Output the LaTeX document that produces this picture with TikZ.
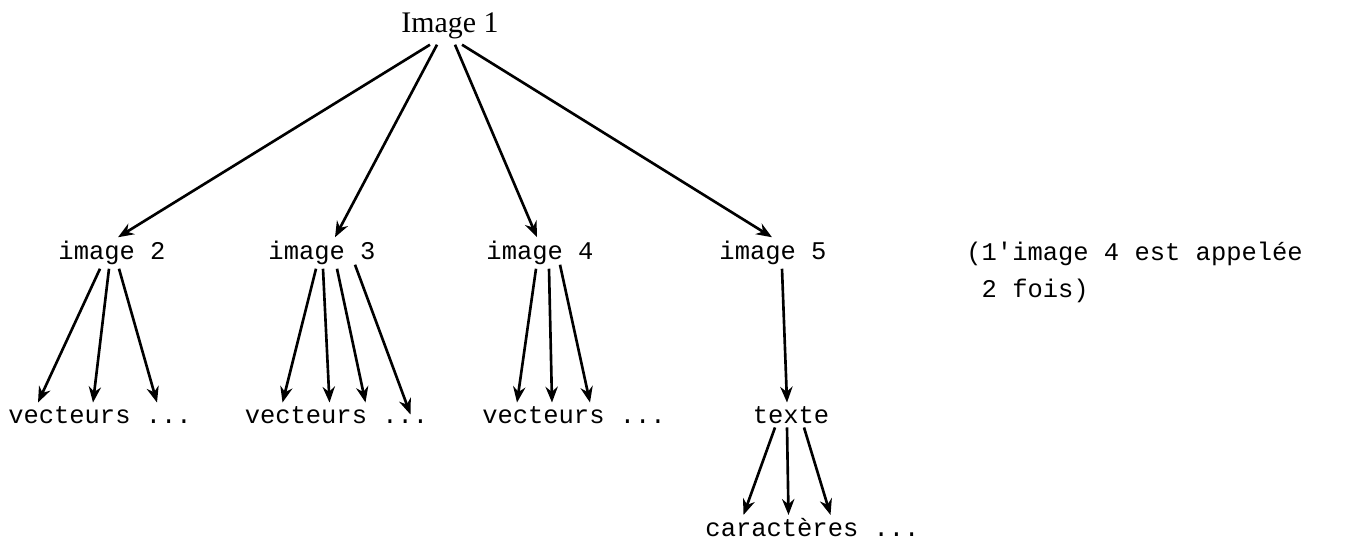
\documentclass[tikz,border=0pt]{standalone}
\usepackage{fontspec}
\setmainfont{Liberation Serif}
\setmonofont{Liberation Mono}
\usetikzlibrary{arrows.meta}

\tikzset{
  lbl/.style={font=\ttfamily\fontsize{14.5}{21.5}\selectfont, inner sep=2pt},
  toplbl/.style={font=\rmfamily\fontsize{17}{20}\selectfont, inner sep=3pt},
  arr/.style={-{Stealth[length=9pt,width=7pt]}, line width=1.5pt, black}
}

\begin{document}
\begin{tikzpicture}
                \useasboundingbox (0,0) rectangle (27.06,-10.94);
                % levels of the tree
                \node[toplbl] (img1) at (9.0,-0.52) {Image 1};
                \node[lbl] (img2) at (2.24,-5.06) {image 2};
                \node[lbl] (img3) at (6.44,-5.06) {image 3};
                \node[lbl] (img4) at (10.8,-5.06) {image 4};
                \node[lbl] (img5) at (15.46,-5.06) {image 5};
                \node[lbl] (vecA) at (2.0,-8.3) {vecteurs ...};
                \node[lbl] (vecB) at (6.73,-8.3) {vecteurs ...};
                \node[lbl] (vecC) at (11.48,-8.3) {vecteurs ...};
                \node[lbl] (texte) at (15.82,-8.3) {texte};
                \node[lbl] (carac) at (16.25,-10.56) {caractères ...};
                \node[lbl, align=left, anchor=west] (note) at (19.25,-5.45) {(1'image 4 est appelée\\\phantom{(}2 fois)};
                % Image 1
                \draw[arr] ([xshift=-0.4cm]img1.south) -- ([xshift=0.12cm]img2.north);
                \draw[arr] ([xshift=-0.26cm]img1.south) -- ([xshift=0.26cm]img3.north);
                \draw[arr] ([xshift=0.1cm]img1.south) -- ([xshift=-0.06cm]img4.north);
                \draw[arr] ([xshift=0.24cm]img1.south) -- ([xshift=-0.02cm]img5.north);
                % image 2
                \draw[arr] ([xshift=-0.24cm]img2.south) -- ([xshift=-1.24cm]vecA.north);
                \draw[arr] ([xshift=-0.06cm]img2.south) -- ([xshift=-0.14cm]vecA.north);
                \draw[arr] ([xshift=0.14cm]img2.south) -- ([xshift=1.14cm]vecA.north);
                % image 3
                \draw[arr] ([xshift=-0.12cm]img3.south) -- ([xshift=-1.08cm]vecB.north);
                \draw[arr] ([xshift=0.02cm]img3.south) -- ([xshift=-0.14cm]vecB.north);
                \draw[arr] ([xshift=0.3cm]img3.south) -- ([xshift=0.58cm]vecB.north);
                \draw[arr] ([xshift=0.66cm,yshift=0.08cm]img3.south) -- ([xshift=1.48cm,yshift=-0.24cm]vecB.north);
                % image 4
                \draw[arr] ([xshift=-0.08cm]img4.south) -- ([xshift=-1.14cm]vecC.north);
                \draw[arr] ([xshift=0.18cm]img4.south) -- ([xshift=-0.44cm]vecC.north);
                \draw[arr] ([xshift=0.4cm,yshift=0.08cm]img4.south) -- ([xshift=0.32cm]vecC.north);
                % image 5
                \draw[arr] ([xshift=0.18cm]img5.south) -- ([xshift=-0.08cm]texte.north);
                \draw[arr] ([xshift=-0.32cm]texte.south) -- ([xshift=-1.38cm]carac.north);
                \draw[arr] ([xshift=-0.08cm]texte.south) -- ([xshift=-0.48cm]carac.north);
                \draw[arr] ([xshift=0.26cm]texte.south) -- ([xshift=0.36cm]carac.north);
            \end{tikzpicture}
\end{document}
